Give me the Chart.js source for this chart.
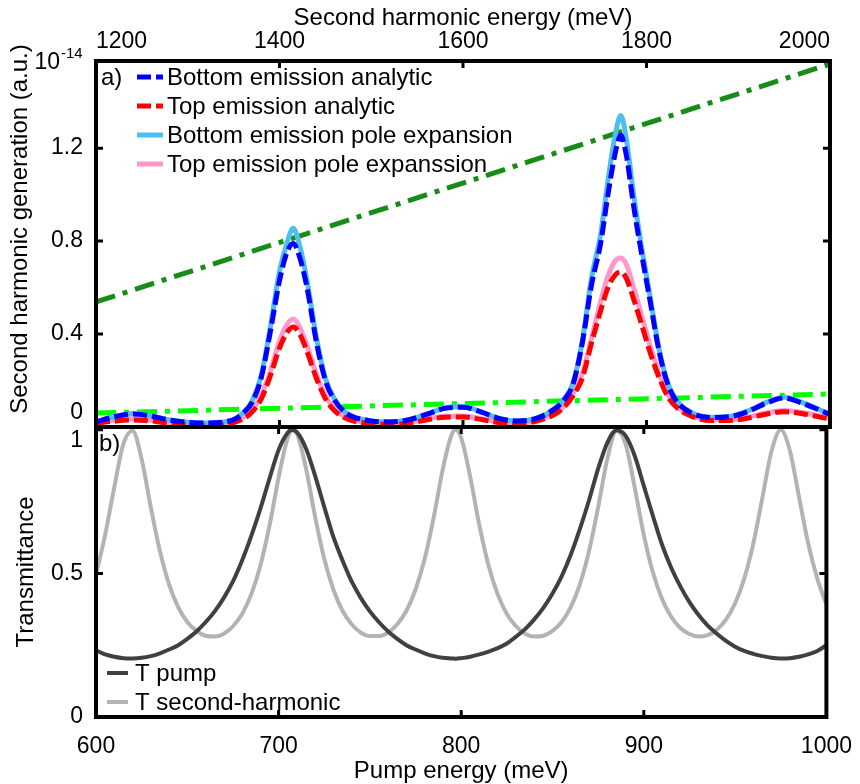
<!DOCTYPE html>
<html>
<head>
<meta charset="utf-8">
<title>Second harmonic generation / transmittance</title>
<style>
    body { margin: 0; background: #fff; }
    #wrap { position: relative; width: 860px; height: 784px; }
    .panel { position: absolute; left: 0; width: 860px; }
    #panelA { top: 0; height: 430px; }
    #panelB { top: 420px; height: 364px; }
</style>
</head>
<body>
<div id="wrap">
    <div class="panel" id="panelB"><canvas id="chartB" width="860" height="364"></canvas></div>
    <div class="panel" id="panelA"><canvas id="chartA" width="860" height="430"></canvas></div>
</div>

<script src="https://cdn.jsdelivr.net/npm/chart.js"></script>
<script>
// axis ticks
const pumpTicks = [600, 700, 800, 900, 1000];
const shEnergyTicks = [1200, 1400, 1600, 1800, 2000];
const shgTicks = [0, 0.4, 0.8, 1.2];
const transTicks = [0, 0.5, 1];

// panel a) second harmonic generation, x = pump energy (meV)
const shgPump = [600, 610, 620, 630, 640, 650, 660, 670, 675, 680,
    685, 690, 695, 700, 704, 707.5, 711, 715, 720, 725,
    730, 735, 740, 750, 760, 770, 780, 790, 800, 810,
    820, 830, 840, 850, 855, 860, 865, 870, 875, 879,
    883, 886, 889, 893, 897, 902, 907, 912, 917, 925,
    935, 945, 955, 965, 975, 985, 1000];
const bottomAnalytic = [0.022, 0.044, 0.056, 0.047, 0.030, 0.020, 0.017, 0.022, 0.031, 0.058,
    0.105, 0.210, 0.410, 0.630, 0.750, 0.790, 0.730, 0.600, 0.370, 0.200,
    0.115, 0.068, 0.044, 0.026, 0.022, 0.030, 0.054, 0.080, 0.085, 0.064,
    0.036, 0.026, 0.037, 0.078, 0.115, 0.185, 0.360, 0.610, 0.790, 1.000,
    1.180, 1.255, 1.170, 0.950, 0.760, 0.540, 0.320, 0.175, 0.105, 0.058,
    0.041, 0.044, 0.066, 0.102, 0.125, 0.102, 0.054];
const topAnalytic = [0.016, 0.025, 0.030, 0.026, 0.016, 0.010, 0.008, 0.012, 0.019, 0.034,
    0.064, 0.120, 0.220, 0.340, 0.405, 0.430, 0.400, 0.325, 0.212, 0.122,
    0.070, 0.042, 0.027, 0.014, 0.012, 0.016, 0.030, 0.042, 0.043, 0.032,
    0.018, 0.014, 0.025, 0.055, 0.085, 0.135, 0.210, 0.360, 0.500, 0.600,
    0.655, 0.667, 0.640, 0.550, 0.450, 0.320, 0.210, 0.125, 0.080, 0.045,
    0.028, 0.028, 0.038, 0.055, 0.066, 0.057, 0.034];
const bottomPole = [0.022, 0.045, 0.058, 0.048, 0.030, 0.020, 0.017, 0.022, 0.032, 0.060,
    0.110, 0.220, 0.430, 0.670, 0.790, 0.855, 0.780, 0.630, 0.390, 0.210,
    0.120, 0.070, 0.045, 0.026, 0.022, 0.030, 0.055, 0.082, 0.088, 0.065,
    0.036, 0.026, 0.038, 0.080, 0.120, 0.190, 0.370, 0.640, 0.830, 1.060,
    1.260, 1.340, 1.240, 1.000, 0.790, 0.560, 0.330, 0.180, 0.110, 0.060,
    0.042, 0.045, 0.068, 0.105, 0.128, 0.105, 0.055];
const topPole = [0.020, 0.030, 0.035, 0.030, 0.020, 0.013, 0.011, 0.015, 0.024, 0.040,
    0.072, 0.135, 0.240, 0.370, 0.440, 0.465, 0.430, 0.350, 0.230, 0.135,
    0.078, 0.047, 0.031, 0.017, 0.015, 0.020, 0.034, 0.046, 0.047, 0.036,
    0.022, 0.017, 0.029, 0.060, 0.090, 0.145, 0.230, 0.380, 0.540, 0.650,
    0.715, 0.727, 0.700, 0.600, 0.490, 0.350, 0.230, 0.135, 0.085, 0.048,
    0.031, 0.032, 0.042, 0.060, 0.071, 0.062, 0.038];
// dash-dot reference lines
const lineX = [600, 1000];
const darkGreenY = [0.538, 1.562];
const lightGreenY = [0.060, 0.142];

// panel b) transmittance
const transPump = [600, 605, 610, 615, 620, 625, 630, 635, 640, 645,
    650, 655, 660, 665, 670, 675, 680, 685, 690, 695,
    700, 705, 707.5, 710, 715, 720, 725, 730, 735, 740, 745,
    750, 755, 760, 765, 770, 775, 780, 785, 790, 795, 797,
    800, 805, 810, 815, 820, 825, 830, 835, 840, 845,
    850, 855, 860, 865, 870, 875, 880, 885, 890, 895,
    900, 905, 910, 915, 920, 925, 930, 935, 940, 945,
    950, 955, 960, 965, 970, 975, 980, 985, 990, 995,
    1000];
const tPump = [0.232, 0.218, 0.210, 0.205, 0.204, 0.206, 0.212, 0.222, 0.235, 0.250,
    0.272, 0.298, 0.330, 0.368, 0.415, 0.472, 0.545, 0.630, 0.725, 0.830,
    0.930, 0.990, 1.000, 0.992, 0.935, 0.840, 0.732, 0.627, 0.545, 0.472, 0.415,
    0.368, 0.330, 0.298, 0.272, 0.250, 0.235, 0.222, 0.212, 0.206, 0.204, 0.203,
    0.205, 0.210, 0.218, 0.228, 0.240, 0.256, 0.280, 0.306, 0.340, 0.380,
    0.430, 0.490, 0.565, 0.655, 0.755, 0.865, 0.955, 0.999, 0.980, 0.910,
    0.805, 0.700, 0.600, 0.520, 0.455, 0.400, 0.355, 0.318, 0.290, 0.265,
    0.245, 0.230, 0.220, 0.212, 0.206, 0.204, 0.205, 0.210, 0.218, 0.230,
    0.250];
const tSecond = [0.495, 0.634, 0.800, 0.951, 0.997, 0.898, 0.731, 0.578, 0.462, 0.383,
    0.331, 0.300, 0.283, 0.280, 0.290, 0.316, 0.359, 0.427, 0.527, 0.666,
    0.834, 0.972, 0.998, 0.987, 0.866, 0.697, 0.551, 0.444, 0.370, 0.323, 0.294,
    0.282, 0.282, 0.294, 0.323, 0.370, 0.444, 0.551, 0.697, 0.866, 0.987, 1.000,
    0.972, 0.834, 0.666, 0.527, 0.427, 0.359, 0.316, 0.290, 0.280, 0.283,
    0.300, 0.331, 0.383, 0.462, 0.578, 0.731, 0.898, 0.997, 0.951, 0.800,
    0.634, 0.503, 0.411, 0.349, 0.310, 0.289, 0.280, 0.285, 0.304, 0.339,
    0.396, 0.482, 0.605, 0.766, 0.927, 1.000, 0.927, 0.766, 0.605, 0.482,
    0.392];

const FONT = "'Liberation Sans', Arial, sans-serif";
Chart.defaults.font.family = FONT;
Chart.defaults.color = '#000';

const pts = (xs, ys) => xs.map((x, i) => ({x: x, y: ys[i]}));

// black box, inward ticks, y tick labels, optional rotated y title
const framePlugin = {
    id: 'frame',
    afterDatasetsDraw(chart, args, opts) {
        const ctx = chart.ctx, a = chart.chartArea;
        const xs = chart.scales.x, ys = chart.scales.y;
        ctx.save();
        ctx.strokeStyle = '#000';
        ctx.lineWidth = 3;
        ctx.beginPath();
        xs.ticks.forEach(t => {
            const p = xs.getPixelForValue(t.value);
            if (p < a.left + 2 || p > a.right - 2) return;
            ctx.moveTo(p, a.top); ctx.lineTo(p, a.top + 7);
            ctx.moveTo(p, a.bottom); ctx.lineTo(p, a.bottom - 7);
        });
        ys.ticks.forEach(t => {
            const p = ys.getPixelForValue(t.value);
            if (p < a.top + 2 || p > a.bottom - 2) return;
            ctx.moveTo(a.left, p); ctx.lineTo(a.left + 7, p);
            ctx.moveTo(a.right, p); ctx.lineTo(a.right - 7, p);
        });
        ctx.stroke();
        ctx.lineWidth = 4;
        ctx.strokeRect(a.left, a.top, a.right - a.left, a.bottom - a.top);

        ctx.fillStyle = '#000';
        ctx.font = '23px ' + FONT;
        ctx.textAlign = 'right';
        ctx.textBaseline = 'middle';
        ys.ticks.forEach(t => {
            let p = ys.getPixelForValue(t.value);
            if (opts.insetTop != null) p = Math.max(p, a.top + opts.insetTop);
            if (opts.insetBottom != null) p = Math.min(p, a.bottom - opts.insetBottom);
            ctx.fillText(String(t.value), a.left - 13, p);
        });
        if (opts.exponent) {
            ctx.fillText('10', a.left - 36, a.top + 2);
            ctx.font = '15px ' + FONT;
            ctx.textAlign = 'left';
            ctx.fillText(opts.exponent, a.left - 35, a.top - 7);
        }
        if (opts.yTitle) {
            ctx.font = '24px ' + FONT;
            ctx.textAlign = 'center';
            ctx.translate(opts.yTitle.x, opts.yTitle.y);
            ctx.rotate(-Math.PI / 2);
            ctx.fillText(opts.yTitle.text, 0, 0);
        }
        ctx.restore();
    }
};

// panel tag and legend inside the box
const keyPlugin = {
    id: 'panelKey',
    afterDraw(chart, args, opts) {
        const ctx = chart.ctx;
        ctx.save();
        ctx.fillStyle = '#000';
        ctx.font = '24px ' + FONT;
        ctx.textAlign = 'left';
        ctx.textBaseline = 'middle';
        ctx.fillText(opts.tag, opts.tagX, opts.tagY);
        opts.items.forEach((di, k) => {
            const ds = chart.data.datasets[di];
            const y = opts.y + k * opts.rowH;
            ctx.beginPath();
            ctx.strokeStyle = ds.borderColor;
            ctx.lineWidth = ds.borderWidth;
            ctx.setLineDash(ds.borderDash || []);
            ctx.moveTo(opts.x, y);
            ctx.lineTo(opts.x + opts.lineLen, y);
            ctx.stroke();
            ctx.setLineDash([]);
            ctx.fillText(ds.label, opts.x + opts.lineLen + opts.gap, y + 1);
        });
        ctx.restore();
    }
};

const dashDot = [20, 8, 5, 8];

new Chart(document.getElementById('chartA'), {
    type: 'line',
    data: {
        datasets: [
            {label: 'Bottom emission analytic', data: pts(shgPump, bottomAnalytic),
             borderColor: '#0000ff', borderWidth: 5, borderDash: [14, 5], order: 1},
            {label: 'Top emission analytic', data: pts(shgPump, topAnalytic),
             borderColor: '#ff0000', borderWidth: 5, borderDash: [14, 5], order: 2},
            {label: 'Bottom emission pole expansion', data: pts(shgPump, bottomPole),
             borderColor: '#4dbeee', borderWidth: 5, order: 3},
            {label: 'Top emission pole expanssion', data: pts(shgPump, topPole),
             borderColor: '#ff99cc', borderWidth: 5, order: 4},
            {label: 'fit high', data: pts(lineX, darkGreenY),
             borderColor: '#178c17', borderWidth: 5, borderDash: dashDot, order: 5},
            {label: 'fit low', data: pts(lineX, lightGreenY),
             borderColor: '#00ff00', borderWidth: 5, borderDash: dashDot, order: 6}
        ]
    },
    options: {
        responsive: false,
        animation: false,
        layout: {padding: {left: 0, right: 30, top: 0, bottom: 3}},
        elements: {point: {radius: 0}, line: {cubicInterpolationMode: 'monotone', fill: false}},
        plugins: {
            legend: {display: false},
            tooltip: {enabled: false},
            frame: {insetBottom: 14, exponent: '-14',
                    yTitle: {text: 'Second harmonic generation (a.u.)', x: 20, y: 229}},
            panelKey: {tag: 'a)', tagX: 101, tagY: 78, x: 137, y: 77, rowH: 29, lineLen: 26, gap: 4, items: [0, 1, 2, 3]}
        },
        scales: {
            x: {
                type: 'linear', position: 'top', min: 600, max: 1000,
                afterBuildTicks: s => { s.ticks = pumpTicks.map(v => ({value: v})); },
                afterFit: s => { s.height = 61; },
                ticks: {font: {size: 23}, padding: -2, align: 'inner', maxRotation: 0,
                        callback: (v, i) => String(shEnergyTicks[i])},
                grid: {display: false},
                border: {display: false},
                title: {display: true, text: 'Second harmonic energy (meV)', font: {size: 24}, padding: {top: 4, bottom: 0}}
            },
            y: {
                min: 0, max: 1.575,
                afterBuildTicks: s => { s.ticks = shgTicks.map(v => ({value: v})); },
                afterFit: s => { s.width = 96; },
                ticks: {display: false},
                grid: {display: false},
                border: {display: false}
            }
        }
    },
    plugins: [framePlugin, keyPlugin]
});

new Chart(document.getElementById('chartB'), {
    type: 'line',
    data: {
        datasets: [
            {label: 'T pump', data: pts(transPump, tPump), borderColor: '#404040', borderWidth: 4},
            {label: 'T second-harmonic', data: pts(transPump, tSecond), borderColor: '#b3b3b3', borderWidth: 4}
        ]
    },
    options: {
        responsive: false,
        animation: false,
        layout: {padding: {left: 0, right: 30, top: 7, bottom: 0}},
        elements: {point: {radius: 0}, line: {cubicInterpolationMode: 'monotone', fill: false}},
        plugins: {
            legend: {display: false},
            tooltip: {enabled: false},
            frame: {insetTop: 14},
            panelKey: {tag: 'b)', tagX: 99, tagY: 24, x: 107, y: 253, rowH: 29, lineLen: 21, gap: 7, items: [0, 1]}
        },
        scales: {
            x: {
                type: 'linear', position: 'bottom', min: 600, max: 1000,
                afterBuildTicks: s => { s.ticks = pumpTicks.map(v => ({value: v})); },
                afterFit: s => { s.height = 67; },
                ticks: {font: {size: 23}, padding: 8, maxRotation: 0, callback: v => String(v)},
                grid: {display: false},
                border: {display: false},
                title: {display: true, text: 'Pump energy (meV)', font: {size: 24}, padding: {top: 0, bottom: -2}}
            },
            y: {
                min: 0, max: 1.01,
                afterBuildTicks: s => { s.ticks = transTicks.map(v => ({value: v})); },
                afterFit: s => { s.width = 96; },
                ticks: {display: false},
                grid: {display: false},
                border: {display: false},
                title: {display: true, text: 'Transmittance', font: {size: 24}, padding: {top: 12, bottom: 0}}
            }
        }
    },
    plugins: [framePlugin, keyPlugin]
});
</script>
</body>
</html>
